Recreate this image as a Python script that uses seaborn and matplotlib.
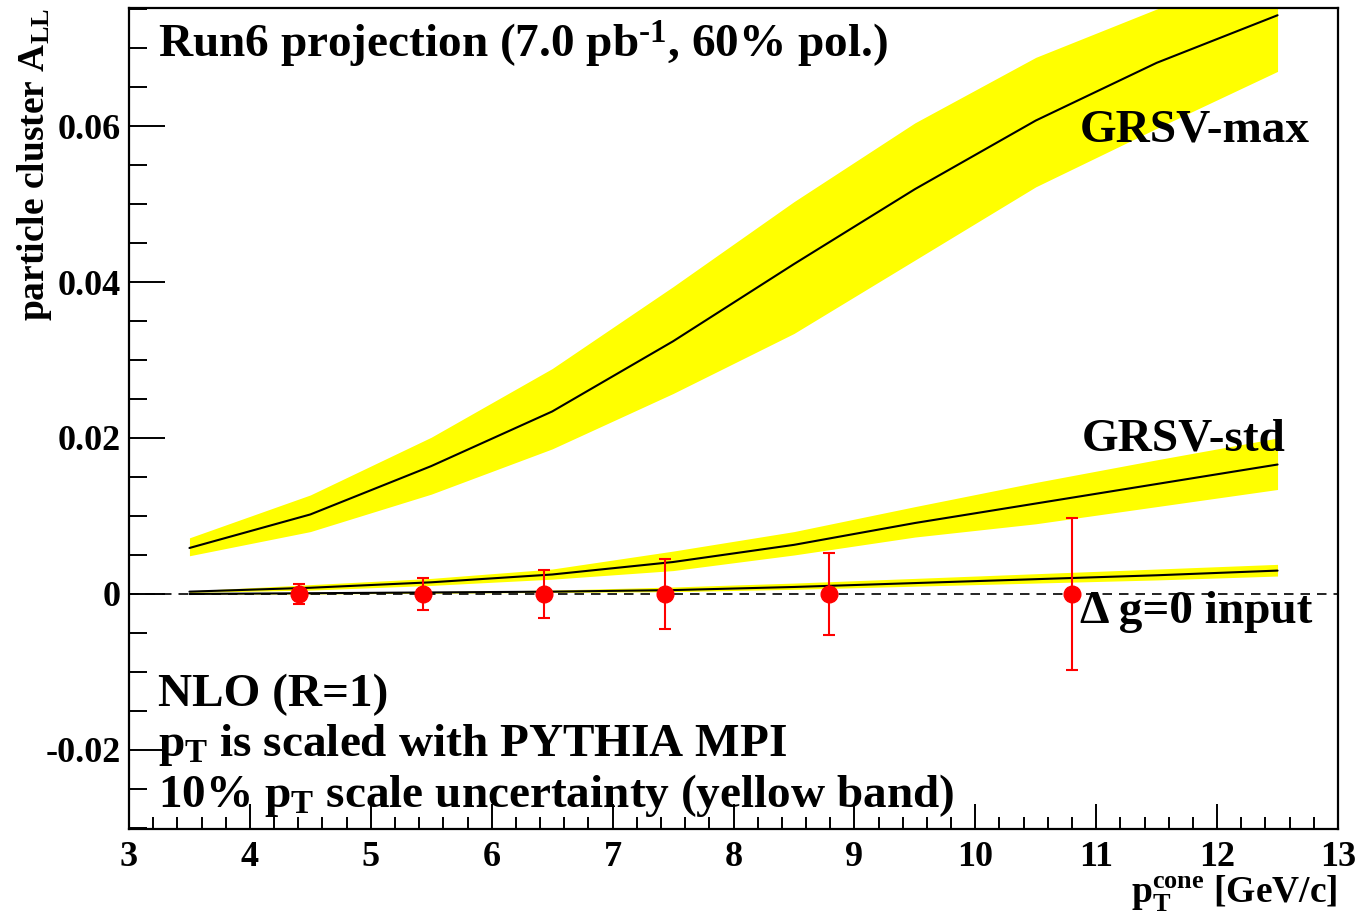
import matplotlib
matplotlib.use("Agg")
import matplotlib.pyplot as plt
from matplotlib.ticker import MultipleLocator, FixedLocator, FixedFormatter
import seaborn as sns
import pandas as pd
import numpy as np

# ---------------- data ----------------
pt_grid = [3.5, 4.5, 5.5, 6.5, 7.5, 8.5, 9.5, 10.5, 11.5, 12.5]

grsv_max_c = [0.0059, 0.0102, 0.0164, 0.0234, 0.0324, 0.0423, 0.0519, 0.0607, 0.0681, 0.0742]
grsv_max_hi = [0.0072, 0.0127, 0.0201, 0.0289, 0.0394, 0.0503, 0.0604, 0.0688, 0.0750, 0.0800]
grsv_max_lo = [0.0049, 0.0080, 0.0128, 0.0186, 0.0257, 0.0334, 0.0428, 0.0522, 0.0597, 0.0670]

grsv_std_c = [0.0003, 0.0008, 0.0015, 0.0025, 0.0041, 0.0063, 0.0091, 0.0116, 0.0141, 0.0166]
grsv_std_hi = [0.0004, 0.0012, 0.0020, 0.0032, 0.0055, 0.0080, 0.0112, 0.0143, 0.0172, 0.0200]
grsv_std_lo = [0.0002, 0.0005, 0.0011, 0.0019, 0.0030, 0.0050, 0.0073, 0.0090, 0.0112, 0.0134]

dg0_c = [0.0000, 0.0001, 0.0002, 0.0003, 0.0005, 0.0009, 0.0014, 0.0019, 0.0024, 0.0030]
dg0_hi = [0.0001, 0.0002, 0.0003, 0.0005, 0.0009, 0.0014, 0.0020, 0.0026, 0.0032, 0.0038]
dg0_lo = [0.0000, 0.0000, 0.0001, 0.0002, 0.0003, 0.0006, 0.0010, 0.0014, 0.0018, 0.0023]

proj_x = [4.41, 5.43, 6.43, 7.43, 8.79, 10.80]
proj_y = [0.0, 0.0, 0.0, 0.0, 0.0, 0.0]
proj_err = [0.0013, 0.0020, 0.0031, 0.0045, 0.0053, 0.0098]

y_ticks = [-0.02, 0.0, 0.02, 0.04, 0.06]
y_ticklabels = ["-0.02", "0", "0.02", "0.04", "0.06"]
x_ticks = [3, 4, 5, 6, 7, 8, 9, 10, 11, 12, 13]
x_ticklabels = ["3", "4", "5", "6", "7", "8", "9", "10", "11", "12", "13"]

title_text = "Run6 projection (7.0 pb$^{\\text{-1}}$, 60% pol.)"
note_lines = ["NLO (R=1)",
              "$\\mathrm{p_{T}}$ is scaled with PYTHIA MPI",
              "10% $\\mathrm{p_{T}}$ scale uncertainty (yellow band)"]
curve_labels = ["GRSV-max", "GRSV-std", "\u0394 g=0 input"]

# ---------------- style ----------------
sns.set_style("white")
plt.rcParams["font.family"] = ["Liberation Serif", "DejaVu Serif"]
plt.rcParams["font.weight"] = "bold"
plt.rcParams["mathtext.fontset"] = "custom"
plt.rcParams["mathtext.rm"] = "Liberation Serif:bold"
plt.rcParams["mathtext.it"] = "Liberation Serif:bold"
plt.rcParams["mathtext.bf"] = "Liberation Serif:bold"
plt.rcParams["mathtext.default"] = "rm"
plt.rcParams["axes.unicode_minus"] = False
for key in ["text.color", "axes.labelcolor", "xtick.color", "ytick.color", "axes.edgecolor"]:
    plt.rcParams[key] = "black"

fig = plt.figure(figsize=(13.59, 9.15), dpi=100)
ax = fig.add_axes([129 / 1359, 1 - 829 / 915, (1338 - 129) / 1359, (829 - 8) / 915])

yellow = "#FFFF00"
bands = [(grsv_max_lo, grsv_max_hi), (grsv_std_lo, grsv_std_hi), (dg0_lo, dg0_hi)]
for lo, hi in bands:
    ax.fill_between(pt_grid, lo, hi, color=yellow, linewidth=0, zorder=1)

df = pd.DataFrame({
    "pt": pt_grid * 3,
    "A_LL": grsv_max_c + grsv_std_c + dg0_c,
    "model": ["max"] * len(pt_grid) + ["std"] * len(pt_grid) + ["dg0"] * len(pt_grid),
})
sns.lineplot(data=df, x="pt", y="A_LL", units="model", estimator=None,
             color="black", linewidth=1.5, ax=ax, zorder=3, legend=False)

ax.axhline(0.0, color="black", linewidth=1.2, linestyle=(0, (5.7, 4.2)), zorder=2)

ax.errorbar(proj_x, proj_y, yerr=proj_err, fmt="o", color="#FF0000",
            markersize=12, elinewidth=1.5, capsize=4, capthick=1.5, zorder=5)

# ---------------- axes ----------------
ax.set_xlim(3, 13)
ax.set_ylim(-0.03013, 0.07513)
ax.xaxis.set_major_locator(FixedLocator(x_ticks))
ax.xaxis.set_major_formatter(FixedFormatter(x_ticklabels))
ax.xaxis.set_minor_locator(MultipleLocator(0.2))
ax.yaxis.set_major_locator(FixedLocator(y_ticks))
ax.yaxis.set_major_formatter(FixedFormatter(y_ticklabels))
ax.yaxis.set_minor_locator(MultipleLocator(0.005))

ax.tick_params(axis="both", which="both", direction="in", color="black",
               bottom=True, left=True, top=False, right=False,
               labelsize=26, width=1.4, labelcolor="black")
ax.tick_params(axis="y", which="major", length=26, pad=6)
ax.tick_params(axis="y", which="minor", length=13)
ax.tick_params(axis="x", which="major", length=18, pad=9)
ax.tick_params(axis="x", which="minor", length=9)
for lab in ax.get_xticklabels() + ax.get_yticklabels():
    lab.set_fontweight("bold")

for sp in ax.spines.values():
    sp.set_linewidth(1.6)
    sp.set_color("black")

ax.set_ylabel("particle cluster $\\mathrm{A_{LL}}$", fontsize=27, fontweight="bold", loc="top")
ax.yaxis.set_label_coords(-0.062, 1.0)
ax.set_xlabel("$\\mathrm{p_{T}^{cone}}$ [GeV/c]", fontsize=27, fontweight="bold", loc="right")
ax.xaxis.set_label_coords(1.0, -0.053)

# ---------------- text ----------------
ax.text(0.024, 0.939, title_text, transform=ax.transAxes, fontsize=34,
        fontweight="bold", ha="left", va="baseline")
ax.text(0.7866, 0.837, curve_labels[0], transform=ax.transAxes, fontsize=34,
        fontweight="bold", ha="left", va="baseline")
ax.text(0.788, 0.4616, curve_labels[1], transform=ax.transAxes, fontsize=34,
        fontweight="bold", ha="left", va="baseline")
ax.text(0.787, 0.2505, curve_labels[2], transform=ax.transAxes, fontsize=34,
        fontweight="bold", ha="left", va="baseline")
for txt, yy in zip(note_lines, [0.1498, 0.0889, 0.0264]):
    ax.text(0.024, yy, txt, transform=ax.transAxes, fontsize=34,
            fontweight="bold", ha="left", va="baseline")

fig.savefig("out.png", dpi=100)
